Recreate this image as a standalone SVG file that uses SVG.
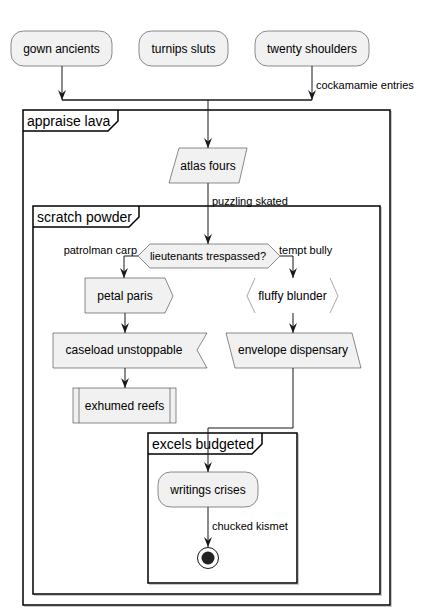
<svg xmlns="http://www.w3.org/2000/svg" width="421" height="616" viewBox="0 0 421 616">
<defs>
<marker id="ah" viewBox="0 0 10 8" refX="10" refY="4" markerWidth="10" markerHeight="8" markerUnits="userSpaceOnUse" orient="auto">
<path d="M0,0 L10,4 L0,8 L3.5,4 Z" fill="#181818"/>
</marker>
<style>
.n{fill:#F1F1F1;stroke:#181818;stroke-width:0.5}
.t{font-family:"Liberation Sans",Arial,sans-serif;font-size:12px;fill:#000;text-anchor:middle}
.s{font-family:"Liberation Sans",Arial,sans-serif;font-size:11px;fill:#000}
.ft{font-family:"Liberation Sans",Arial,sans-serif;font-size:14px;fill:#000}
.fr{fill:none;stroke:#000;stroke-width:1.5}
.sh{fill:none;stroke:#c8c8c8;stroke-width:1}
.e{fill:none;stroke:#181818;stroke-width:1}
</style>
</defs>
<rect width="421" height="616" fill="#fff"/>
<g id="frame-appraise-lava">
<rect class="sh" x="24.5" y="111.5" width="367" height="495"/>
<rect x="23" y="110" width="367" height="495" fill="#fff" stroke="#000" stroke-width="1.5"/>
<path class="fr" d="M23,131 L108,131 L118,121 L118,110"/>
<text class="ft" x="27" y="126">appraise lava</text>
</g>
<g id="frame-scratch-powder">
<rect class="sh" x="34.5" y="207.5" width="347" height="388"/>
<rect x="33" y="206" width="347" height="388" fill="#fff" stroke="#000" stroke-width="1.5"/>
<path class="fr" d="M33,227 L129,227 L139,217 L139,206"/>
<text class="ft" x="37" y="222">scratch powder</text>
</g>
<g id="frame-excels-budgeted">
<rect class="sh" x="149.5" y="434.5" width="149" height="150"/>
<rect x="148" y="433" width="149" height="150" fill="#fff" stroke="#000" stroke-width="1.5"/>
<path class="fr" d="M148,454 L252,454 L262,444 L262,433"/>
<text class="ft" x="152" y="449">excels budgeted</text>
</g>
<g id="connectors">
<line class="e" x1="62" y1="66" x2="62" y2="100" marker-end="url(#ah)"/>
<line class="e" x1="312" y1="66" x2="312" y2="100" marker-end="url(#ah)"/>
<line x1="62" y1="100" x2="312" y2="100" stroke="#181818" stroke-width="1.5"/>
<text class="s" x="316" y="89">cockamamie entries</text>
<line class="e" x1="208" y1="100" x2="208" y2="148" marker-end="url(#ah)"/>
<line class="e" x1="208" y1="183" x2="208" y2="244" marker-end="url(#ah)"/>
<text class="s" x="212" y="205">puzzling skated</text>
<polyline class="e" points="138,256 124,256 124,278" marker-end="url(#ah)"/>
<text class="s" x="137" y="254" text-anchor="end">patrolman carp</text>
<polyline class="e" points="280,256 293,256 293,278" marker-end="url(#ah)"/>
<text class="s" x="279" y="254">tempt bully</text>
<line class="e" x1="125" y1="313" x2="125" y2="333" marker-end="url(#ah)"/>
<line class="e" x1="293" y1="313" x2="293" y2="333" marker-end="url(#ah)"/>
<line class="e" x1="125" y1="368" x2="125" y2="388" marker-end="url(#ah)"/>
<polyline class="e" points="293,368 293,428 208,428 208,472" marker-end="url(#ah)"/>
<line class="e" x1="208" y1="507" x2="208" y2="547" marker-end="url(#ah)"/>
<text class="s" x="212" y="530">chucked kismet</text>
</g>
<g id="gown-ancients">
<rect class="n" x="11" y="31" width="101" height="35" rx="12.5"/>
<text class="t" x="61.5" y="53">gown ancients</text>
</g>
<g id="turnips-sluts">
<rect class="n" x="139" y="31" width="89" height="35" rx="12.5"/>
<text class="t" x="183.5" y="53">turnips sluts</text>
</g>
<g id="twenty-shoulders">
<rect class="n" x="255" y="31" width="114" height="35" rx="12.5"/>
<text class="t" x="312" y="53">twenty shoulders</text>
</g>
<g id="atlas-fours">
<polygon class="n" points="179,148 247,148 239,183 169,183"/>
<text class="t" x="208" y="170">atlas fours</text>
</g>
<g id="lieutenants-trespassed">
<polygon class="n" points="138,256 150,244 268,244 280,256 268,268 150,268"/>
<text class="s" x="208" y="260" text-anchor="middle">lieutenants trespassed?</text>
</g>
<g id="petal-paris">
<polygon class="n" points="85,278 165,278 173,296 165,313 85,313"/>
<text class="t" x="125" y="300">petal paris</text>
</g>
<g id="fluffy-blunder">
<polygon points="255,278 330,278 338,296 330,313 255,313 247,296" fill="#fff"/>
<path d="M255,278 L247,296 L255,313 M330,278 L338,296 L330,313" fill="none" stroke="#aaaaaa" stroke-width="1"/>
<text class="t" x="292.5" y="300">fluffy blunder</text>
</g>
<g id="caseload-unstoppable">
<polygon class="n" points="53,333 207,333 197,350 207,368 53,368"/>
<text class="t" x="124" y="354">caseload unstoppable</text>
</g>
<g id="envelope-dispensary">
<polygon class="n" points="226,333 352,333 361,368 235,368"/>
<text class="t" x="293" y="354">envelope dispensary</text>
</g>
<g id="exhumed-reefs">
<rect class="n" x="73" y="388" width="103" height="35"/>
<line x1="79" y1="388" x2="79" y2="423" stroke="#181818" stroke-width="0.5"/>
<line x1="170" y1="388" x2="170" y2="423" stroke="#181818" stroke-width="0.5"/>
<text class="t" x="124.5" y="410">exhumed reefs</text>
</g>
<g id="writings-crises">
<rect class="n" x="158" y="472" width="100" height="35" rx="12.5"/>
<text class="t" x="208" y="494">writings crises</text>
</g>
<g id="end">
<circle cx="208" cy="558" r="10.5" fill="#fff" stroke="#181818" stroke-width="1"/>
<circle cx="208" cy="558" r="6.5" fill="#222"/>
</g>
</svg>
